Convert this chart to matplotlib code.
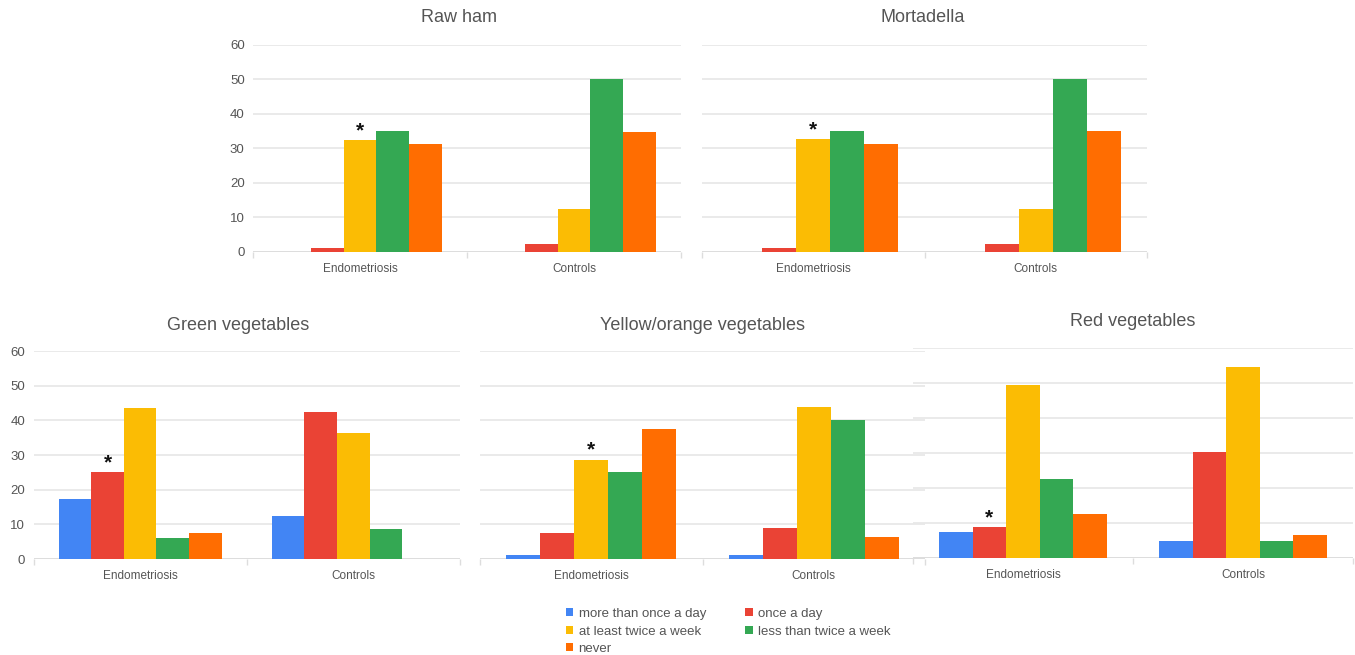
import matplotlib
matplotlib.use("Agg")
import matplotlib.pyplot as plt
from matplotlib.patches import Patch

plt.rcParams['font.family'] = ['Liberation Sans', 'DejaVu Sans']

categories = ["Endometriosis", "Controls"]
series = ["more than once a day", "once a day", "at least twice a week",
          "less than twice a week", "never"]
colors = ["#4285F4", "#EA4335", "#FBBC04", "#34A853", "#FF6D01"]

# values per series: [Endometriosis, Controls]
raw_ham = [[0, 0], [1.2, 2.2], [32.4, 12.3], [34.9, 50.0], [31.2, 34.8]]
mortadella = [[0, 0], [1.3, 2.3], [32.6, 12.4], [35.0, 50.1], [31.3, 35.0]]
green_veg = [[17.4, 12.3], [25.0, 42.4], [43.7, 36.3], [6.1, 8.7], [7.4, 0]]
yellow_veg = [[1.2, 1.2], [7.6, 8.8], [28.7, 43.8], [25.0, 40.0], [37.4, 6.3]]
red_veg = [[7.5, 5.0], [8.8, 30.2], [49.3, 54.5], [22.7, 5.0], [12.7, 6.5]]

# (title, data, significant series index, show y labels)
panels = [
    ("Raw ham", raw_ham, 2, True),
    ("Mortadella", mortadella, 2, False),
    ("Green vegetables", green_veg, 1, True),
    ("Yellow/orange vegetables", yellow_veg, 2, False),
    ("Red vegetables", red_veg, 1, False),
]

W, H = 1355, 655
fig = plt.figure(figsize=(W / 100, H / 100), dpi=100)

# pixel rects: left, top, right, bottom
rects = [
    (253, 44.5, 681, 252),
    (702, 44.5, 1147, 252),
    (33.5, 351, 460, 559),
    (480, 351, 925, 559),
    (913, 348, 1353, 558),
]
title_pos = [(459, 18), (923, 18), (238, 326), (703, 326), (1133, 321)]

yticks = [0, 10, 20, 30, 40, 50, 60]
bw = 0.153
text_col = "#555555"

for (title, data, sig, showy), (l, t, r, b), (tx, ty) in zip(panels, rects, title_pos):
    ax = fig.add_axes([l / W, 1 - b / H, (r - l) / W, (b - t) / H])
    ax.set_facecolor("none")
    for i, vals in enumerate(data):
        xs = [c + 0.5 + (i - 2) * bw for c in range(len(categories))]
        ax.bar(xs, vals, width=bw, color=colors[i], linewidth=0, zorder=3)
    # significance asterisk above the Endometriosis bar
    xs_sig = 0.5 + (sig - 2) * bw
    ax.annotate("*", (xs_sig, data[sig][0]), xytext=(0, 2.8),
                textcoords="offset points", ha="center", va="baseline",
                fontsize=15, fontweight="bold", color="#111111", zorder=5)
    ax.set_xlim(0, 2)
    ax.set_ylim(0, 60)
    ax.set_yticks(yticks)
    ax.grid(axis="y", color="#e8e8e8", linewidth=1.3, zorder=0)
    for s in ax.spines.values():
        s.set_visible(False)
    ax.axhline(0, color="#dcdcdc", linewidth=1.3, zorder=2)
    ax.set_xticks([0.5, 1.5])
    ax.set_xticklabels(categories, fontsize=8.5, color=text_col)
    ax.set_xticks([0, 1, 2], minor=True)
    ax.tick_params(axis="x", which="major", length=0, pad=8)
    ax.tick_params(axis="x", which="minor", length=4, color="#dddddd", width=1)
    if showy:
        ax.tick_params(axis="y", length=0, pad=6, labelsize=9.5, labelcolor=text_col)
    else:
        ax.tick_params(axis="y", length=0, labelleft=False)
    fig.text(tx / W, 1 - ty / H, title, ha="center", va="center",
             fontsize=13, color="#555555")

handles = [Patch(facecolor=c, edgecolor="none", label=s) for c, s in zip(colors, series)]
order = [0, 2, 4, 1, 3]
fig.legend([handles[i] for i in order], [series[i] for i in order],
           loc="upper left", bbox_to_anchor=(566 / W, 1 - 608 / H), ncol=2,
           frameon=False, fontsize=9.5, handlelength=0.55, handleheight=0.55,
           handletextpad=0.4, columnspacing=3.0, labelspacing=0.42,
           borderpad=0, borderaxespad=0, labelcolor=text_col)

fig.savefig("out.png", dpi=100)
